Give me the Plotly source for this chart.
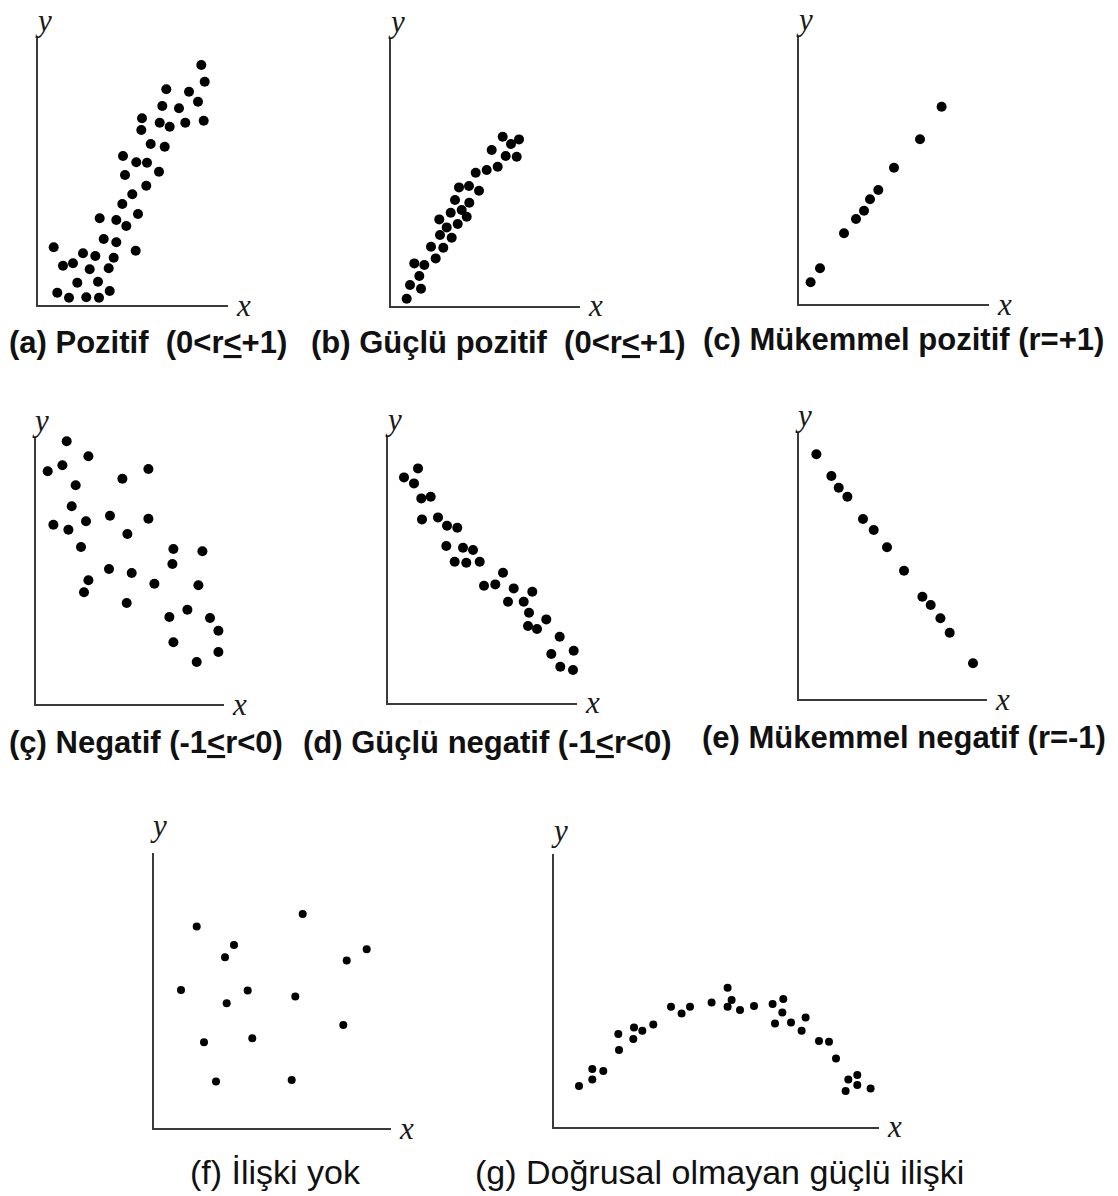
import plotly.graph_objects as go

W, H = 1118, 1196

# ---- data (units = offset from the origin along each axis) ----
a_x = [163.3, 166.7, 128.3, 151, 124.3, 141, 160, 104, 103.3, 121.7, 131.7, 147.3, 165.7, 112.7, 126.7,
       85, 98.3, 109, 121, 87, 108.3, 94.3, 84.3, 100, 61.7, 78.3, 88.3, 65.7, 78.3, 97.7, 15.7, 45,
       57.3, 75.7, 25, 35, 51.7, 70.7, 39.3, 60, 19.3, 31, 48.3, 61, 71.7]
a_y = [240, 223.3, 215.7, 213.3, 199, 196.7, 203.3, 186.7, 175, 182.3, 178.3, 182.3, 184.3, 161, 158.3,
       149, 142.7, 142.3, 133.3, 130, 119.3, 110.7, 101, 91, 86.7, 85, 79, 66, 62.7, 54.3, 57.7, 51.7,
       49, 47.3, 39.3, 41.7, 35.7, 36.7, 22.3, 23.3, 12.3, 7.3, 7.7, 7.3, 14]

b_x = [111.7, 120, 128, 100.7, 114.7, 125.7, 95.7, 106.7, 84.7, 68, 78, 88, 64, 78.3, 59.7, 70.7, 75.7,
       48.3, 55.7, 66.7, 49, 60.7, 40, 52.3, 44.7, 23.3, 33.3, 28.3, 19, 30, 15.7]
b_y = [169, 161.7, 166.3, 155.7, 149.7, 149, 135.7, 139, 133, 118.3, 119.7, 115, 105.7, 103, 93, 95.7, 89,
       86.3, 78.3, 81.7, 70.7, 68, 59, 58, 47.3, 42.3, 40.7, 29.7, 20.7, 17, 7]

c_x = [142.3, 120.7, 94.7, 79, 70.7, 64.7, 56.7, 44.7, 20.7, 11.3]
c_y = [197.3, 164.7, 136.3, 114, 104.7, 93.3, 85, 70.7, 35.7, 21.7]

cc_x = [31, 52.7, 26.7, 12, 40, 86.7, 112.7, 36, 17.7, 32.7, 50.3, 74.3, 112.7, 91.7, 45.3, 137.7, 166.7,
        136.7, 73.3, 96, 118.7, 162.7, 52.7, 48.3, 91, 133.7, 151.7, 174.3, 197, 182.7, 137.7, 182.7,
        161, 195.3]
cc_y = [262.7, 247.7, 238.7, 232.7, 218.7, 225.3, 235, 197.7, 179.3, 174.3, 182.7, 188.3, 185.3, 170,
        157, 155, 152.7, 140, 135, 131, 120.3, 118.7, 123.7, 111.7, 101, 87, 94.3, 86, 87, 73.3, 61.7,
        52, 42, 26]

d_x = [30, 16, 26, 33.3, 42.7, 34, 50, 59, 69.3, 58.3, 75, 85, 66.7, 78.3, 91.7, 115, 96, 107.3, 125.7,
       144.3, 120, 135.7, 141, 140, 149, 158.3, 171.7, 163.3, 185.7, 172.3, 185, 195]
d_y = [234.3, 225.3, 219.3, 204.3, 206, 183.3, 185.3, 177, 175, 156.7, 155, 152.7, 141, 140, 141, 130,
       117, 118.3, 114.3, 111, 101, 101, 90, 76.7, 73.7, 83.3, 66, 48.7, 52, 36, 32.7, 30]

e_x = [17.7, 32.7, 40, 48.7, 64.3, 75, 88.3, 105.3, 123.7, 132, 141.7, 151, 174.3]
e_y = [244.7, 223, 211.3, 202.3, 180, 169, 151.7, 128.3, 102.3, 94, 80.7, 66.3, 35.7]

f_x = [42.7, 148.7, 80, 71, 212.7, 192.7, 27, 93.7, 72.7, 141.3, 189.3, 50, 98.3, 62, 137.7]
f_y = [201.7, 214.3, 183.3, 171, 179, 167.7, 138.3, 137.7, 125, 131.7, 103.3, 86, 90, 46.7, 48.3]

g_x = [24.7, 38, 38, 49, 64, 64.7, 79.7, 79, 88, 99, 116.7, 127.3, 135.7, 157.3, 173.3, 177.3, 173.3,
       185.7, 199.7, 218.3, 229, 228, 220.7, 236.7, 251.3, 247.3, 264.7, 274.7, 281.7, 294, 303, 291.3,
       303, 316.3]
g_y = [40.7, 57.7, 47.3, 55.7, 92.7, 76.7, 99.3, 87.7, 96, 102.3, 120, 113.3, 120, 124.3, 139, 126.7,
       120, 116.7, 120.7, 122.7, 127.7, 114.3, 103.3, 104.3, 109.3, 96, 85.7, 85, 68.3, 47.3, 51.7,
       35.7, 41.7, 38.3]

captions = [
    "(a) Pozitif  (0&lt;r<u>&lt;</u>+1)",
    "(b) Güçlü pozitif  (0&lt;r<u>&lt;</u>+1)",
    "(c) Mükemmel pozitif (r=+1)",
    "(ç) Negatif (-1<u>&lt;</u>r&lt;0)",
    "(d) Güçlü negatif (-1<u>&lt;</u>r&lt;0)",
    "(e) Mükemmel negatif (r=-1)",
    "(f) İlişki yok",
    "(g) Doğrusal olmayan güçlü ilişki",
]

# ---- layout of the panels (pixel boxes: left, top, right, bottom) ----
panels = [
    dict(x=a_x, y=a_y, box=(38, 38, 228, 305), ms=10, cap=(148, 343), bold=True, ly=0),
    dict(x=b_x, y=b_y, box=(391, 39, 580, 305.7), ms=10, cap=(498, 343), bold=True, ly=0),
    dict(x=c_x, y=c_y, box=(799.3, 37, 989, 304), ms=10, cap=(903, 339), bold=True, ly=0),
    dict(x=cc_x, y=cc_y, box=(35.7, 438, 224, 704), ms=10, cap=(146, 742), bold=True, ly=0),
    dict(x=d_x, y=d_y, box=(388, 436.7, 577, 702.7), ms=10, cap=(487, 742), bold=True, ly=0),
    dict(x=e_x, y=e_y, box=(798.7, 432.7, 987, 699), ms=10, cap=(904, 737), bold=True, ly=0),
    dict(x=f_x, y=f_y, box=(154, 852.7, 390.7, 1128.3), ms=8, cap=(275, 1172), bold=False, ly=10),
    dict(x=g_x, y=g_y, box=(554.3, 854, 879, 1126.7), ms=8, cap=(719, 1172), bold=False, ly=6),
]

fig = go.Figure()
annotations = []
axis_color = "#3a3a3a"
label_font = dict(family="Liberation Serif, Times New Roman, serif", size=31, color="#1a1a1a")

for i, p in enumerate(panels):
    n = "" if i == 0 else str(i + 1)
    L, T, R, B = p["box"]
    fig.add_trace(go.Scatter(
        x=p["x"], y=p["y"], mode="markers", xaxis="x" + n, yaxis="y" + n,
        marker=dict(color="black", size=p["ms"], line=dict(width=0)),
        cliponaxis=False, hoverinfo="skip", showlegend=False,
    ))
    common = dict(showgrid=False, zeroline=False, showticklabels=False, ticks="",
                  showline=True, linecolor=axis_color, linewidth=2, fixedrange=True)
    fig.layout["xaxis" + n] = dict(domain=[L / W, R / W], range=[0, R - L],
                                   anchor="y" + n, **common)
    fig.layout["yaxis" + n] = dict(domain=[1 - B / H, 1 - T / H], range=[0, B - T],
                                   anchor="x" + n, **common)
    xr = "x" + n + " domain"
    yr = "y" + n + " domain"
    annotations.append(dict(text="<i>y</i>", xref=xr, yref=yr, x=0, y=1, xanchor="center",
                            yanchor="bottom", xshift=5, yshift=-2 + p["ly"], showarrow=False,
                            font=label_font))
    annotations.append(dict(text="<i>x</i>", xref=xr, yref=yr, x=1, y=0, xanchor="left",
                            yanchor="middle", xshift=6, yshift=0, showarrow=False, font=label_font))
    cx, cy = p["cap"]
    annotations.append(dict(
        text=captions[i], xref="paper", yref="paper", x=cx / W, y=1 - cy / H,
        xanchor="center", yanchor="middle", showarrow=False,
        font=dict(family="Liberation Sans, Arial, sans-serif", size=31 if p["bold"] else 34,
                  color="#111111", weight="bold" if p["bold"] else "normal"),
    ))

fig.update_layout(
    width=W, height=H, margin=dict(l=0, r=0, t=0, b=0),
    paper_bgcolor="white", plot_bgcolor="white",
    annotations=annotations, showlegend=False,
)

fig.write_html("out.html", config={"displayModeBar": False},
               post_script="document.body.style.margin='0';")
